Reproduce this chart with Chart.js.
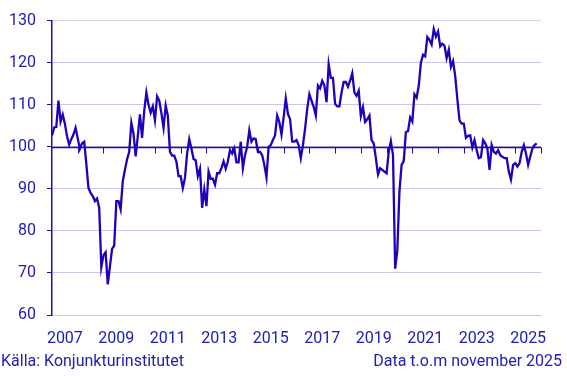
<!DOCTYPE html>
<html>
<head>
<meta charset="utf-8">
<script src="https://cdn.jsdelivr.net/npm/chart.js@4.4.1/dist/chart.umd.min.js"></script>
<style>
  html, body { margin: 0; padding: 0; background: #fff; }
  #wrap { position: relative; width: 567px; height: 376px; font-family: Roboto, sans-serif; color: #2020b4; }
  #chart { position: absolute; left: 0; top: 0; }
  .foot { position: absolute; top: 352px; font-size: 16px; line-height: 18px; white-space: nowrap; }
</style>
</head>
<body>
<div id="wrap">
  <canvas id="chart" width="567" height="376"></canvas>
  <div class="foot" style="left:1px">Källa: Konjunkturinstitutet</div>
  <div class="foot" style="right:5px">Data t.o.m november 2025</div>
</div>
<script>
// monthly values, Jan 2007 - Nov 2025
var startYear = 2007;
var values = [
  102.7, 104.6, 104.7, 111.0, 106.0, 107.7, 105.5, 102.5, 100.5, 101.8, 102.9, 104.5,
  102.0, 99.5, 100.8, 101.2, 96.0, 90.2, 89.0, 88.3, 87.1, 87.7, 85.5, 71.4,
  74.2, 74.9, 67.3, 71.5, 75.7, 76.5, 87.1, 87.1, 85.1, 91.8, 94.5, 97.0,
  98.8, 105.7, 103.1, 97.7, 102.5, 107.7, 102.1, 108.5, 112.9, 110.0, 108.1, 109.6,
  106.3, 112.0, 111.0, 108.0, 104.5, 109.8, 107.4, 98.8, 97.9, 97.9, 96.5, 93.0,
  93.0, 90.2, 92.6, 98.4, 101.8, 99.6, 97.1, 96.8, 93.0, 94.8, 85.5, 89.8,
  85.9, 94.1, 92.4, 92.4, 91.0, 93.7, 93.7, 94.9, 96.5, 94.8, 96.5, 99.2,
  98.4, 99.6, 96.3, 96.3, 101.2, 94.9, 98.0, 100.0, 103.9, 101.2, 102.0, 101.8,
  98.8, 98.8, 98.0, 95.7, 92.7, 100.0, 100.4, 101.6, 102.7, 107.4, 105.9, 102.9,
  107.0, 111.5, 107.8, 106.6, 101.2, 101.2, 101.6, 100.4, 97.3, 100.4, 104.3, 109.0,
  112.5, 111.0, 109.5, 107.4, 114.6, 113.9, 115.7, 114.6, 110.6, 119.6, 116.4, 116.4,
  110.2, 109.6, 109.6, 112.9, 115.4, 115.4, 114.3, 115.7, 117.5, 112.9, 112.1, 113.3,
  107.3, 109.4, 105.9, 106.5, 107.4, 101.6, 100.8, 97.3, 93.4, 94.9, 94.5, 94.1,
  93.7, 98.8, 101.3, 98.0, 71.0, 75.3, 89.4, 95.7, 96.6, 103.5, 103.7, 107.0,
  106.0, 112.5, 111.7, 114.5, 120.0, 121.9, 121.5, 126.1, 125.4, 124.3, 128.0, 126.2,
  127.4, 123.9, 124.5, 124.0, 121.1, 123.1, 119.0, 120.4, 116.8, 111.3, 106.3, 105.5,
  105.5, 102.1, 102.6, 102.7, 99.8, 101.6, 99.2, 97.3, 97.5, 101.6, 100.8, 99.6,
  94.5, 100.4, 98.8, 98.4, 99.2, 98.0, 97.6, 97.3, 97.3, 94.1, 92.2, 95.7,
  96.1, 95.3, 96.1, 98.8, 100.4, 98.4, 95.7, 97.7, 99.6, 100.4, 100.8
];
var tickYears = [2007, 2009, 2011, 2013, 2015, 2017, 2019, 2021, 2023, 2025];
var yTicks = [60, 70, 80, 90, 100, 110, 120, 130];

var textColor = '#2020b4';
var lineColor = '#2200bb';
var axisColor = '#1a0f9e';
var gridColor = '#cac6ee';

var points = values.map(function (v, i) {
  return { x: startYear + i / 12, y: v };
});

// line at 100 with year tick marks under it
var baseLine = {
  id: 'baseLine',
  beforeDatasetsDraw: function (chart) {
    var ctx = chart.ctx, a = chart.chartArea;
    var xs = chart.scales.x, ys = chart.scales.y;
    var y0 = Math.round(ys.getPixelForValue(100)) + 0.5;
    ctx.save();
    ctx.strokeStyle = axisColor;
    ctx.lineWidth = 1.5;
    ctx.beginPath();
    ctx.moveTo(a.left, y0);
    ctx.lineTo(a.right, y0);
    ctx.stroke();
    ctx.lineWidth = 1;
    for (var yr = 2008; yr <= 2026; yr++) {
      var px = Math.round(xs.getPixelForValue(yr)) + 0.5;
      ctx.beginPath();
      ctx.moveTo(px, y0);
      ctx.lineTo(px, y0 + 6);
      ctx.stroke();
    }
    ctx.restore();
  }
};

new Chart(document.getElementById('chart').getContext('2d'), {
  type: 'line',
  data: {
    datasets: [{
      data: points,
      borderColor: lineColor,
      borderWidth: 2.3,
      pointRadius: 0,
      tension: 0,
      fill: false
    }]
  },
  options: {
    responsive: false,
    animation: false,
    layout: { padding: { top: 13.4, right: 26, left: 0, bottom: 0 } },
    plugins: { legend: { display: false }, tooltip: { enabled: false } },
    scales: {
      x: {
        type: 'linear',
        min: 2007,
        max: 2026,
        grid: { display: false },
        border: { display: false },
        afterBuildTicks: function (s) {
          s.ticks = tickYears.map(function (y) { return { value: y + 0.5 }; });
        },
        afterFit: function (s) { s.height = 61; },
        ticks: {
          autoSkip: false,
          maxRotation: 0,
          padding: 6,
          color: textColor,
          font: { family: 'Roboto', size: 16 },
          callback: function (v) { return String(Math.floor(v)); }
        }
      },
      y: {
        min: 60,
        max: 130,
        afterBuildTicks: function (s) {
          s.ticks = yTicks.map(function (v) { return { value: v }; });
        },
        afterFit: function (s) { s.width = 52; },
        grid: {
          color: function (c) { return c.tick && c.tick.value === 130 ? '#d4d4e4' : gridColor; },
          tickColor: axisColor,
          tickLength: 5,
          lineWidth: 1
        },
        border: { color: axisColor, width: 1.5 },
        ticks: {
          padding: 11,
          color: textColor,
          font: { family: 'Roboto', size: 16 }
        }
      }
    }
  },
  plugins: [baseLine]
});
</script>
</body>
</html>
